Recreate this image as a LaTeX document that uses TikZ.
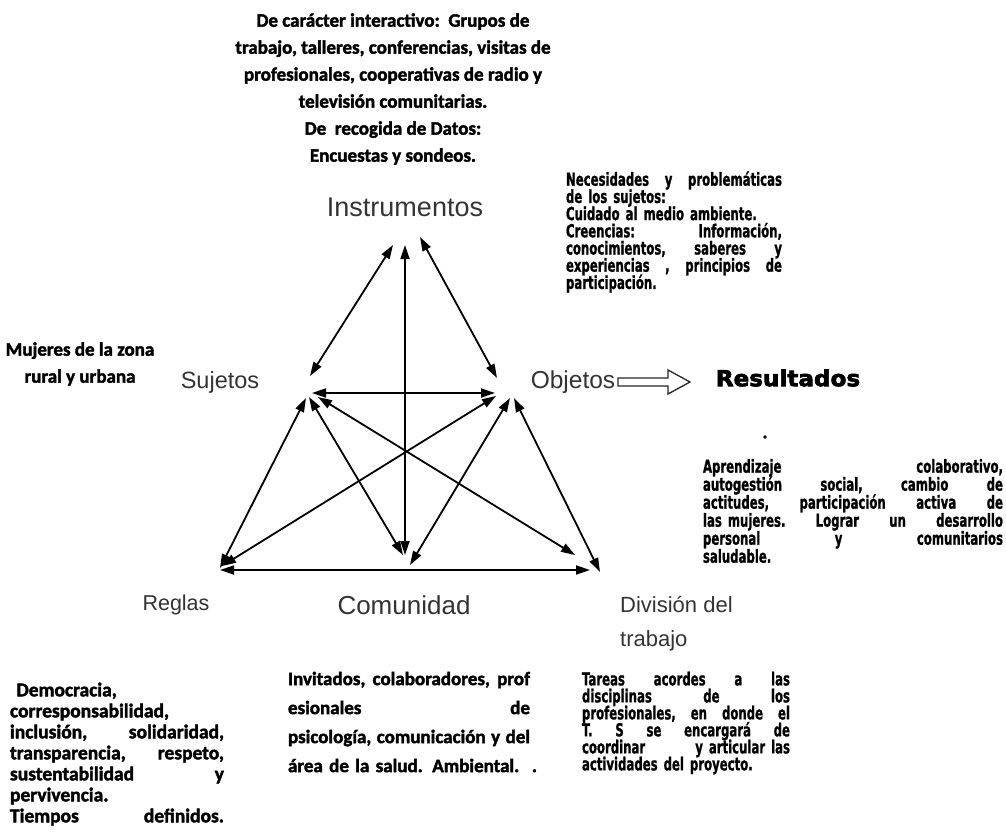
\documentclass[tikz,border=0pt]{standalone}
\usepackage{fontspec}
\usetikzlibrary{arrows.meta}
\newfontfamily\calf{Carlito}[BoldFeatures={FakeBold=2}]
\newfontfamily\tahf{DejaVu Sans}[FakeStretch=0.65, BoldFeatures={FakeBold=1}]
\newfontfamily\labf{Liberation Sans}
\newfontfamily\resf{DejaVu Sans}[FakeStretch=1.05, BoldFeatures={FakeBold=3}]
\definecolor{labgray}{HTML}{333333}
\tikzset{
  lab/.style={text=labgray, inner sep=0pt},
  body/.style={inner sep=0pt, align=left},
  link/.style={line width=1.8pt, {Triangle[length=14pt,width=9pt]}-{Triangle[length=14pt,width=9pt]}},
  hollow/.style={line width=1.3pt, draw=black!85, fill=white},
}
\newcommand{\calfont}[2]{\calf\bfseries\fontsize{#1}{#2}\selectfont\lineskiplimit=-30pt\lineskip=0pt}
\newcommand{\tahfont}[2]{\tahf\bfseries\fontsize{#1}{#2}\selectfont\lineskiplimit=-30pt\lineskip=0pt}
\newcommand{\labfont}[2]{\labf\fontsize{#1}{#2}\selectfont}
\begin{document}
\begin{tikzpicture}[x=1pt,y=-1pt]
\useasboundingbox (0,0) rectangle (1006,835);
% vertices / endpoints
\coordinate (Ia) at (393,245);
\coordinate (Ib) at (405,245);
\coordinate (Ic) at (420,237);
\coordinate (Sa) at (310,376);
\coordinate (Sb) at (312,393);
\coordinate (Sc) at (306,398);
\coordinate (Sd) at (309,397);
\coordinate (Se) at (318,397);
\coordinate (Oa) at (497,378);
\coordinate (Ob) at (495,393);
\coordinate (Oc) at (496,396);
\coordinate (Od) at (510,398);
\coordinate (Oe) at (514,398);
\coordinate (Ra) at (220,568);
\coordinate (Rb) at (220,570);
\coordinate (Rc) at (222,566);
\coordinate (Ca) at (405,555);
\coordinate (Cb) at (403,555);
\coordinate (Cc) at (410,565);
\coordinate (Da) at (590,570);
\coordinate (Db) at (575,555);
\coordinate (Dc) at (600,572);
% connectors
\draw[link] (Ia) -- (Sa);
\draw[link] (Ca) -- (Ib);
\draw[link] (Ic) -- (Oa);
\draw[link] (Sb) -- (Ob);
\draw[link] (Sc) -- (Ra);
\draw[link] (Rb) -- (Da);
\draw[link] (Sd) -- (Cb);
\draw[link] (Se) -- (Db);
\draw[link] (Oc) -- (Rc);
\draw[link] (Od) -- (Cc);
\draw[link] (Oe) -- (Dc);
% labels
\node[lab, font=\labfont{27}{30}] (inst) at (405,207) {Instrumentos};
\node[lab, font=\labfont{23.5}{28}] (suj) at (220,382) {Sujetos};
\node[lab, font=\labfont{24.5}{28}] (obj) at (573,382) {Objetos};
\node[lab, font=\labfont{21.5}{28}] (reg) at (176,605) {Reglas};
\node[lab, font=\labfont{26}{28}] (com) at (404,605) {Comunidad};
\node[lab, font=\labfont{22}{34}, align=left, anchor=west] (div) at (620,624) {División del\\trabajo};
% hollow arrow
\draw[hollow] (618,378) -- (668,378) -- (668,370) -- (690,382) -- (668,394) -- (668,386) -- (618,386) -- cycle;
\node[font=\resf\bfseries\fontsize{22}{24}\selectfont, inner sep=0pt] (res) at (788,378) {Resultados};
\node[font=\calfont{18}{18}, inner sep=0pt] (dot) at (765,437) {.};
% text blocks
\node[body, align=center, font=\calfont{19}{27}] (tinst) at (393,89) {De carácter interactivo:\ \ Grupos de\\
trabajo, talleres, conferencias, visitas de\\
profesionales, cooperativas de radio y\\
televisión comunitarias.\\
De\ \ recogida de Datos:\\
Encuestas y sondeos.};
\node[body, text width=216pt, font=\tahfont{18}{17.2}] (tobj) at (674,232) {Necesidades\hfill y\hfill problemáticas\\
de los sujetos:\\
Cuidado al medio ambiente.\\
Creencias:\hfill Información,\\
conocimientos,\hfill saberes\hfill y\\
experiencias\hfill ,\hfill principios\hfill de\\
participación.};
\node[body, align=center, font=\calfont{19}{27}] (tsuj) at (80,364) {Mujeres de la zona\\rural y urbana};
\node[body, text width=300pt, font=\tahfont{18}{18}] (tres) at (853,511) {Aprendizaje\hfill colaborativo,\\
autogestión\hfill social,\hfill cambio\hfill de\\
actitudes,\hfill participación\hfill activa\hfill de\\
las mujeres.\hfill Lograr\hfill un\hfill desarrollo\\
personal\hfill y\hfill comunitarios\\
saludable.};
\node[body, text width=214pt, font=\calfont{19.5}{21}] (treg) at (117,754) {\ Democracia,\\
corresponsabilidad,\\
inclusión,\hfill solidaridad,\\
transparencia,\hfill respeto,\\
sustentabilidad\hfill y\\
pervivencia.\\
Tiempos\hfill definidos.};
\node[body, text width=242pt, font=\calfont{19}{29}] (tcom) at (409,722) {Invitados,\hfill colaboradores,\hfill prof\\
esionales\hfill de\\
psicología,\hfill comunicación\hfill y\hfill del\\
\mbox{área de la salud. Ambiental.\ \ .}};
\node[body, text width=208pt, font=\tahfont{18}{17}] (tdiv) at (686,723) {Tareas\hfill acordes\hfill a\hfill las\\
disciplinas\hfill de\hfill los\\
profesionales,\hfill en\hfill donde\hfill el\\
T.\hfill S\hfill se\hfill encargará\hfill de\\
coordinar\hfill y\ articular\ las\\
actividades del proyecto.};
\end{tikzpicture}
\end{document}
